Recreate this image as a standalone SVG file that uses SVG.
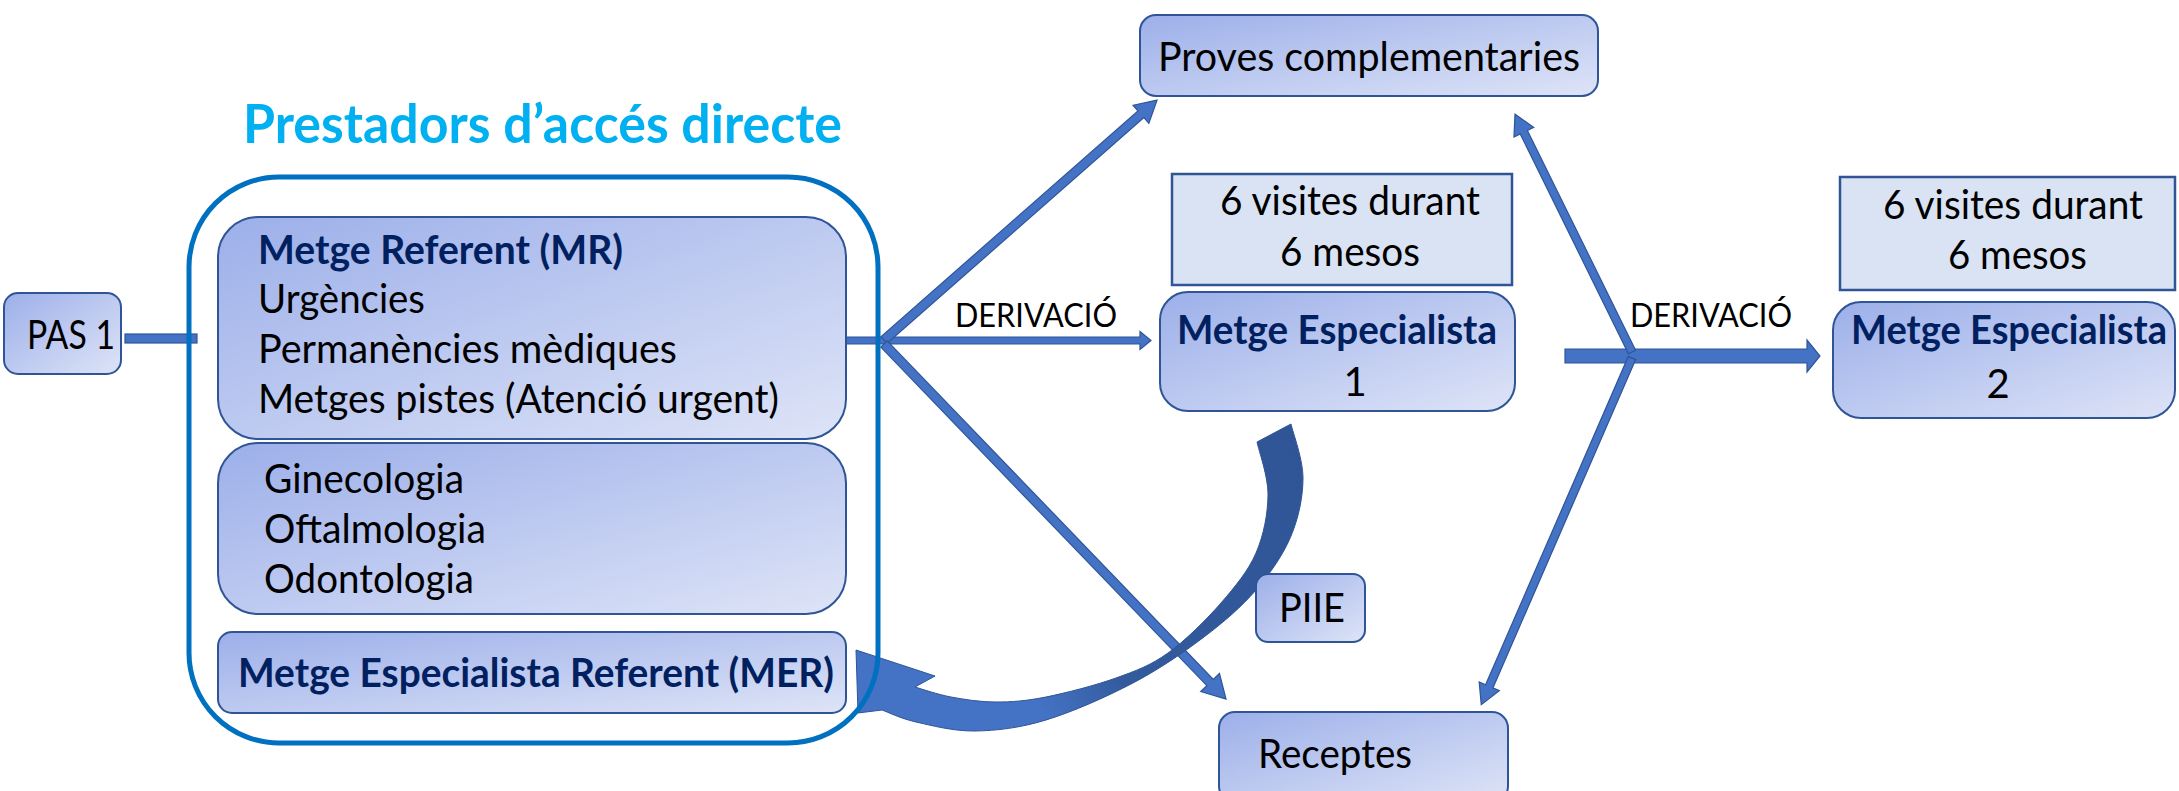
<svg xmlns="http://www.w3.org/2000/svg" width="2179" height="791" viewBox="0 0 2179 791">
<defs>
  <linearGradient id="nodeFill" x1="0" y1="0" x2="1" y2="1">
    <stop offset="0" stop-color="#9CAFE9"/>
    <stop offset="1" stop-color="#DEE4F7"/>
  </linearGradient>
  <linearGradient id="curveFill" gradientUnits="userSpaceOnUse" x1="1290" y1="430" x2="870" y2="700">
    <stop offset="0" stop-color="#2F5597"/>
    <stop offset="0.55" stop-color="#335A9C"/>
    <stop offset="0.72" stop-color="#4472C4"/>
    <stop offset="1" stop-color="#4472C4"/>
  </linearGradient>
  <style>
    .node{fill:url(#nodeFill);stroke:#2F5597;stroke-width:2}
    .note{fill:#DAE3F3;stroke:#2F5597;stroke-width:2.5}
    .arr{fill:#4472C4;stroke:#2F5597;stroke-width:1.2}
    .t{font-family:Lato,"Liberation Sans",sans-serif;font-size:40px;fill:#000000}
    .b{font-weight:700;fill:#002060}
    .lbl{font-size:32px}
    .title{font-family:Lato,"Liberation Sans",sans-serif;font-size:54px;font-weight:700;fill:#00B0F0}
  </style>
</defs>
<rect width="2179" height="791" fill="#FFFFFF"/>

<text class="title" x="243" y="143" textLength="599" lengthAdjust="spacingAndGlyphs">Prestadors d’accés directe</text>

<g id="connectors">
  <rect class="arr" x="125" y="334" width="72" height="9"/>
  <g transform="translate(846,340.5)"><polygon class="arr" points="0,-3.5 294,-3.5 294,-9 305,0 294,9 294,3.5 0,3.5"/></g>
  <g transform="translate(884,340) rotate(-41.3)"><polygon class="arr" points="0,-4.5 342,-4.5 342,-12 363.5,0 342,12 342,4.5 0,4.5"/></g>
  <g transform="translate(884,344) rotate(46.07)"><polygon class="arr" points="0,-4.5 470,-4.5 470,-13 493,0 470,13 470,4.5 0,4.5"/></g>
  <g transform="translate(1565,356)"><polygon class="arr" points="0,-7 242,-7 242,-16 255,0 242,16 242,7 0,7"/></g>
  <g transform="translate(1632,352) rotate(-116.2)"><polygon class="arr" points="0,-4 245,-4 245,-11 265,0 245,11 245,4 0,4"/></g>
  <g transform="translate(1632,358) rotate(113.5)"><polygon class="arr" points="0,-4 358,-4 358,-11 378,0 358,11 358,4 0,4"/></g>
  <path fill="url(#curveFill)" stroke="#2F5597" stroke-width="1" d="M1291,424 C1293,433 1303,459.3 1303,478 C1303,496.7 1298.8,517.3 1291,536 C1283.2,554.7 1270.5,573.2 1256,590 C1241.5,606.8 1224.5,621.5 1204,637 C1183.5,652.5 1159.3,669.2 1133,683 C1106.7,696.8 1072.3,712 1046,720 C1019.7,728 996.7,730.7 975,731 C953.3,731.3 931.5,725.5 916,722 C900.5,718.5 887.7,712 882,710 L858,713 L856,650 L935,676 L915,687 C921,688.7 937.5,694.5 951,697 C964.5,699.5 980.2,702 996,702 C1011.8,702 1026,701 1046,697 C1066,693 1095.7,685.3 1116,678 C1136.3,670.7 1150.5,665.5 1168,653 C1185.5,640.5 1206.3,619.7 1221,603 C1235.7,585.8 1248.2,571 1256,553 C1263.8,535 1267.8,513.5 1268,495 C1268.2,476.5 1258.8,450.8 1257,442 Z"/>
</g>

<g id="container">
  <rect x="189" y="177" width="689" height="566" rx="90" ry="90" fill="none" stroke="#0070C0" stroke-width="5"/>
</g>

<g id="pas1">
  <rect class="node" x="4" y="293" width="117" height="81" rx="14"/>
  <text class="t" x="27" y="349" textLength="88" lengthAdjust="spacingAndGlyphs">PAS 1</text>
</g>

<g id="mr">
  <rect class="node" x="218" y="217" width="628" height="222" rx="40"/>
  <text class="t b" x="258" y="264" textLength="365" lengthAdjust="spacingAndGlyphs">Metge Referent (MR)</text>
  <text class="t" x="258" y="313" textLength="167" lengthAdjust="spacingAndGlyphs">Urgències</text>
  <text class="t" x="258" y="363" textLength="419" lengthAdjust="spacingAndGlyphs">Permanències mèdiques</text>
  <text class="t" x="258" y="413" textLength="521" lengthAdjust="spacingAndGlyphs">Metges pistes (Atenció urgent)</text>
</g>

<g id="especialitats">
  <rect class="node" x="218" y="443" width="628" height="171" rx="40"/>
  <text class="t" x="264" y="493" textLength="200" lengthAdjust="spacingAndGlyphs">Ginecologia</text>
  <text class="t" x="264" y="543" textLength="222" lengthAdjust="spacingAndGlyphs">Oftalmologia</text>
  <text class="t" x="264" y="593" textLength="210" lengthAdjust="spacingAndGlyphs">Odontologia</text>
</g>

<g id="mer">
  <rect class="node" x="218" y="632" width="628" height="81" rx="14"/>
  <text class="t b" x="238" y="687" textLength="596" lengthAdjust="spacingAndGlyphs">Metge Especialista Referent (MER)</text>
</g>

<g id="proves">
  <rect class="node" x="1140" y="15" width="458" height="81" rx="16"/>
  <text class="t" x="1158" y="71" textLength="422" lengthAdjust="spacingAndGlyphs">Proves complementaries</text>
</g>

<g id="visites1">
  <rect class="note" x="1172" y="174" width="340" height="111"/>
  <text class="t" x="1220" y="215" textLength="260" lengthAdjust="spacingAndGlyphs">6 visites durant</text>
  <text class="t" x="1280" y="266" textLength="140" lengthAdjust="spacingAndGlyphs">6 mesos</text>
</g>

<g id="especialista1">
  <rect class="node" x="1160" y="292" width="355" height="119" rx="28"/>
  <text class="t b" x="1177" y="344" textLength="320" lengthAdjust="spacingAndGlyphs">Metge Especialista</text>
  <text class="t" x="1355" y="396" text-anchor="middle">1</text>
</g>

<g id="visites2">
  <rect class="note" x="1840" y="177" width="335" height="113"/>
  <text class="t" x="1883" y="219" textLength="260" lengthAdjust="spacingAndGlyphs">6 visites durant</text>
  <text class="t" x="1948" y="269" textLength="139" lengthAdjust="spacingAndGlyphs">6 mesos</text>
</g>

<g id="especialista2">
  <rect class="node" x="1833" y="302" width="342" height="116" rx="28"/>
  <text class="t b" x="1851" y="344" textLength="316" lengthAdjust="spacingAndGlyphs">Metge Especialista</text>
  <text class="t" x="1998" y="398" text-anchor="middle">2</text>
</g>

<g id="piie">
  <rect class="node" x="1256" y="574" width="109" height="68" rx="12"/>
  <text class="t" x="1279" y="622" textLength="66" lengthAdjust="spacingAndGlyphs">PIIE</text>
</g>

<g id="receptes">
  <rect class="node" x="1219" y="712" width="289" height="90" rx="16"/>
  <text class="t" x="1258" y="768" textLength="154" lengthAdjust="spacingAndGlyphs">Receptes</text>
</g>

<g id="labels">
  <text class="t lbl" x="955" y="327" textLength="162" lengthAdjust="spacingAndGlyphs">DERIVACIÓ</text>
  <text class="t lbl" x="1630" y="327" textLength="162" lengthAdjust="spacingAndGlyphs">DERIVACIÓ</text>
</g>
</svg>
